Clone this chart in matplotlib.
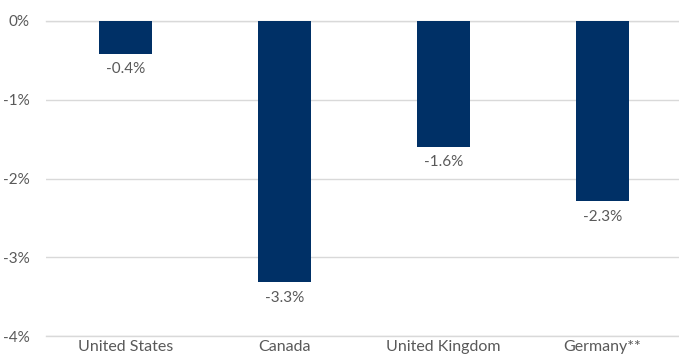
import matplotlib.pyplot as plt

countries = ["United States", "Canada", "United Kingdom", "Germany**"]
values = [-0.42, -3.32, -1.6, -2.29]
labels = ["-0.4%", "-3.3%", "-1.6%", "-2.3%"]
yticks = [0, -1, -2, -3, -4]

bar_color = "#003066"
text_color = "#595959"
grid_color = "#d9d9d9"

plt.rcParams["font.family"] = ["Lato", "DejaVu Sans"]

fig = plt.figure(figsize=(6.79, 3.56), dpi=100)
ax = fig.add_axes([46 / 679, 20 / 356, 636 / 679, 315 / 356])

x = range(len(countries))
ax.bar(x, values, width=0.33, color=bar_color, zorder=3)

for xi, v, lab in zip(x, values, labels):
    ax.annotate(lab, (xi, v), xytext=(0, -6), textcoords="offset points",
                ha="center", va="top", fontsize=11, color=text_color)

ax.set_xlim(-0.5, len(countries) - 0.5)
ax.set_ylim(-4, 0)
ax.set_yticks(yticks)
ax.set_yticklabels([f"{t}%" for t in yticks])
ax.set_xticks(list(x))
ax.set_xticklabels(countries)
ax.yaxis.grid(True, color=grid_color, linewidth=1, zorder=0)
ax.set_axisbelow(True)
ax.tick_params(axis="both", length=0, labelsize=11, labelcolor=text_color)
ax.tick_params(axis="x", pad=3, labelsize=11.5)
ax.tick_params(axis="y", pad=12)
for s in ax.spines.values():
    s.set_visible(False)
ax.axhline(-4, color=grid_color, linewidth=1, zorder=0, clip_on=False)
ax.axhline(0, color=grid_color, linewidth=1, zorder=0, clip_on=False)

fig.savefig("out.png", dpi=100)
